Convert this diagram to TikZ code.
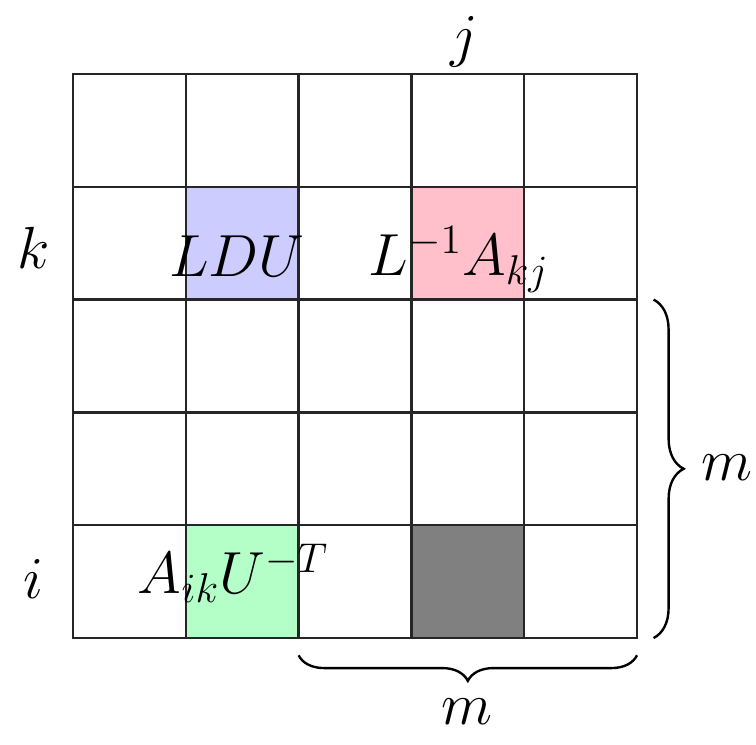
\documentclass[tikz,border=0pt]{standalone}
\usepackage{fix-cm}
\usepackage{amsmath}
\usetikzlibrary{calc, positioning, decorations.pathreplacing}
\definecolor{ldublue}{RGB}{204,204,255}
\definecolor{solvepink}{RGB}{255,192,203}
\definecolor{solvegreen}{RGB}{180,255,200}
\definecolor{updgray}{RGB}{128,128,128}

\begin{document}
\begin{tikzpicture}[font=\fontsize{22.5}{27}\selectfont]
    % Estilos
    \tikzstyle{cell} = [rectangle, draw=black!85, line width=0.9pt, minimum size=1.5cm, inner sep=0pt, outer sep=0pt]
    \tikzstyle{fillcell} = [rectangle, minimum size=1.5cm, inner sep=0pt, outer sep=0pt]
    \tikzstyle{lbl} = [inner sep=0pt, anchor=base]
    \tikzstyle{brace_line} = [draw, line width=0.9pt, decorate, decoration={brace, amplitude=0.4cm}]

    \useasboundingbox (-0.971,-1.410) rectangle (9.082,8.484);

    % Blocos coloridos
    \node [fillcell, fill=ldublue] (ldu) at (2.25,5.25) {};
    \node [fillcell, fill=solvepink] (rowsolve) at (5.25,5.25) {};
    \node [fillcell, fill=solvegreen] (colsolve) at (2.25,0.75) {};
    \node [fillcell, fill=updgray] (update) at (5.25,0.75) {};

    % Grade 5x5
    \foreach \x in {0,...,4}
        \foreach \y in {0,...,4}
            \node [cell] (c\x\y) at ({1.5*\x+0.75},{1.5*\y+0.75}) {};

    % Textos dos blocos
    \node [lbl] (ldutext) at (2.18,4.81) {$LDU$};
    \node [lbl] (rowtext) at (5.13,4.82) {$L^{-1}A_{kj}$};
    \node [lbl] (coltext) at (2.13,0.59) {$A_{ik}U^{-T}$};

    % Indices
    \node [lbl] (jlabel) at (5.2,7.74) {$j$};
    \node [lbl] (klabel) at (-0.53,4.92) {$k$};
    \node [lbl] (ilabel) at (-0.53,0.53) {$i$};

    % Chaves
    \coordinate (rtop) at ($(c42.north east)+(0.22,0)$);
    \coordinate (rbot) at ($(c40.south east)+(0.22,0)$);
    \path [brace_line] (rtop) -- (rbot);
    \node [inner sep=0pt] (mright) at (8.70,2.26) {$m$};

    \coordinate (bright) at ($(c40.south east)+(0,-0.23)$);
    \coordinate (bleft) at ($(c20.south west)+(0,-0.23)$);
    \path [brace_line, decoration={amplitude=0.34cm}] (bright) -- (bleft);
    \node [inner sep=0pt] (mbottom) at (5.24,-0.98) {$m$};
\end{tikzpicture}
\end{document}
